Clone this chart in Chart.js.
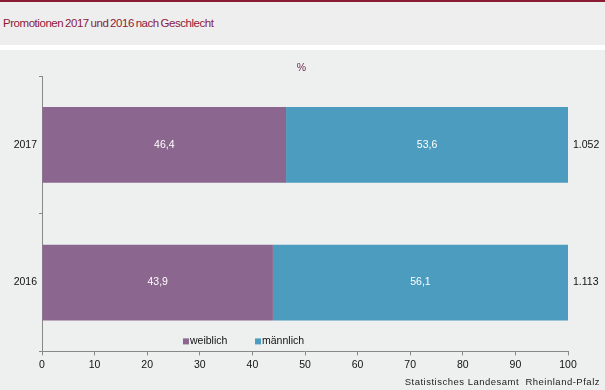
<!DOCTYPE html>
<html>
<head>
<meta charset="utf-8">
<script src="https://cdn.jsdelivr.net/npm/chart.js@4"></script>
<style>
  html, body { margin: 0; padding: 0; background: #eef0ef; }
  body { width: 605px; height: 390px; position: relative; overflow: hidden; font-family: "Liberation Sans", Arial, sans-serif; }
  #topline { position: absolute; left: 0; top: 0; width: 605px; height: 2px; background: #8b1a33; }
  #head { position: absolute; left: 0; top: 2px; width: 605px; height: 43px; background: #eeeeee; }
  #head span { position: absolute; left: 3px; top: 15px; font-size: 11.5px; color: #8b1a3a; letter-spacing: -0.45px; word-spacing: -1px; }
  #gap { position: absolute; left: 0; top: 45px; width: 605px; height: 5px; background: #ffffff; }
  #wrap { position: absolute; left: 0; top: 50px; width: 605px; height: 340px; }
  #source { position: absolute; right: 5px; top: 376px; font-size: 9.5px; color: #222; letter-spacing: 0.5px; }
</style>
</head>
<body>
<div id="topline"></div>
<div id="head"><span>Promotionen 2017 und 2016 nach Geschlecht</span></div>
<div id="gap"></div>
<div id="wrap"><canvas id="chart" width="605" height="340"></canvas></div>
<div id="source">Statistisches Landesamt&nbsp; Rheinland-Pfalz</div>
<script>
// chart values
const years = ['2017', '2016'];
const weiblich = [46.4, 43.9];
const maennlich = [53.6, 56.1];
const totals = ['1.052', '1.113'];
const xTicks = [0, 10, 20, 30, 40, 50, 60, 70, 80, 90, 100];
const unit = '%';

const purple = '#8b668f';
const blue = '#4b9cbf';

function fmt(v) {
    return v.toFixed(1).replace('.', ',');
}

// value labels in bars, totals to the right, legend inside plot
const labelPlugin = {
    id: 'labels',
    afterDatasetsDraw(chart) {
        const ctx = chart.ctx;
        const area = chart.chartArea;
        const x = chart.scales.x;
        ctx.save();
        ctx.font = '10.5px "Liberation Sans", Arial, sans-serif';
        ctx.textBaseline = 'middle';
        chart.data.datasets.forEach(function (ds, di) {
            const meta = chart.getDatasetMeta(di);
            meta.data.forEach(function (bar, i) {
                const left = Math.min(bar.x, bar.base);
                const right = Math.max(bar.x, bar.base);
                ctx.fillStyle = '#ffffff';
                ctx.textAlign = 'center';
                ctx.fillText(fmt(ds.data[i]), (left + right) / 2, bar.y);
            });
        });
        const meta0 = chart.getDatasetMeta(0);
        ctx.fillStyle = '#111111';
        ctx.textAlign = 'left';
        totals.forEach(function (t, i) {
            ctx.fillText(t, area.right + 5, meta0.data[i].y);
        });
        // unit label above plot
        ctx.fillStyle = '#6b2a4a';
        ctx.textAlign = 'center';
        ctx.fillText(unit, x.getPixelForValue(49.3), area.top - 8);
        // legend
        ctx.textAlign = 'left';
        const ly = area.bottom - 10;
        const legendAt = [26.8, 40.5];
        chart.data.datasets.forEach(function (ds, di) {
            const lx = x.getPixelForValue(legendAt[di]);
            ctx.fillStyle = ds.backgroundColor;
            ctx.fillRect(lx, ly - 3, 6, 6);
            ctx.fillStyle = '#111111';
            ctx.fillText(ds.label, lx + 7, ly);
        });
        ctx.restore();
    }
};

new Chart(document.getElementById('chart'), {
    type: 'bar',
    data: {
        labels: years,
        datasets: [
            { label: 'weiblich', data: weiblich, backgroundColor: purple, barPercentage: 0.55, categoryPercentage: 1 },
            { label: 'männlich', data: maennlich, backgroundColor: blue, barPercentage: 0.55, categoryPercentage: 1 }
        ]
    },
    options: {
        indexAxis: 'y',
        responsive: false,
        animation: false,
        layout: { padding: { left: 0, right: 37, top: 26, bottom: 16 } },
        plugins: {
            legend: { display: false },
            tooltip: { enabled: false },
            title: { display: false }
        },
        scales: {
            x: {
                stacked: true,
                min: 0,
                max: 100,
                afterBuildTicks(axis) { axis.ticks = xTicks.map(v => ({ value: v })); },
                border: { color: '#888888', width: 1 },
                grid: { drawOnChartArea: false, tickLength: 4, color: '#888888' },
                ticks: { color: '#111111', padding: 3, font: { size: 10.5, family: '"Liberation Sans", Arial, sans-serif' } }
            },
            y: {
                stacked: true,
                afterFit(axis) { axis.width = 42; },
                border: { color: '#888888', width: 1 },
                grid: { offset: true, drawOnChartArea: false, tickLength: 3, color: '#888888' },
                ticks: { color: '#111111', padding: 2, font: { size: 10.5, family: '"Liberation Sans", Arial, sans-serif' } }
            }
        }
    },
    plugins: [labelPlugin]
});
</script>
</body>
</html>
